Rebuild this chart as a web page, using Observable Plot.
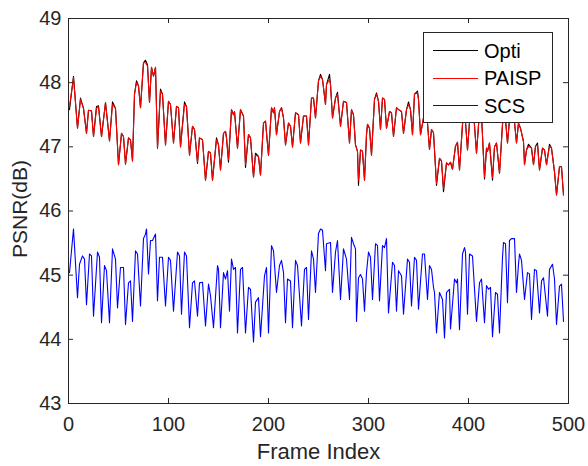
<!DOCTYPE html>
<html>
<head>
<meta charset="utf-8">
<script src="https://cdn.jsdelivr.net/npm/d3@7"></script>
<script src="https://cdn.jsdelivr.net/npm/@observablehq/plot@0.6"></script>
<style>
  body { margin: 0; background: white; }
  #wrap { position: relative; width: 588px; height: 466px; font-family: "Liberation Sans", Arial, sans-serif; }
  #legend { position: absolute; left: 423px; top: 32px; width: 130px; height: 91px; box-sizing: border-box;
    border: 1px solid #262626; background: white; padding-top: 4px; }
  .row { display: flex; align-items: center; height: 27.5px; }
  .row svg { margin-left: 9px; margin-right: 6px; }
  .row span { font-size: 20px; color: #000; line-height: 1; }
</style>
</head>
<body>
<div id="wrap"></div>
<script>
// ---- data ----
const xTicks = [0, 100, 200, 300, 400, 500];
const yTicks = [43, 44, 45, 46, 47, 48, 49];
const seriesNames = ["Opti", "PAISP", "SCS"];
const seriesColors = ["#000000", "#ff0000", "#0000ff"];

const paispFrames = [1,5,9,12,15,18,20,23,25,28,30,33,37,41,44,47,50,53,55,57,60,62,64,66,68,70,72,75,77,79,81,83,85,87,89,92,94,97,100,102,105,108,110,112,116,118,121,124,126,129,131,134,137,140,142,144,148,150,152,155,157,158,160,163,165,166,169,172,175,177,180,182,185,187,190,192,195,197,200,203,205,206,208,211,213,215,217,220,222,224,227,230,232,235,238,240,243,245,247,250,252,254,257,258,261,262,264,267,269,272,275,278,281,283,285,287,289,290,292,294,296,298,299,301,303,306,308,310,312,314,316,318,321,323,325,328,330,333,335,338,340,342,344,346,349,350,352,355,357,359,361,363,365,368,371,373,375,378,380,382,384,387,389,391,394,396,399,402,405,408,411,413,416,418,419,421,424,426,428,431,434,436,439,442,445,448,450,452,455,456,458,460,463,465,467,469,471,474,476,478,481,483,486,488,491,493,495];
const paisp = [47.63,48.08,47.29,47.74,47.60,47.21,47.57,47.56,47.16,47.60,47.62,47.16,47.69,47.09,47.66,47.60,46.72,47.21,47.16,46.73,47.14,47.11,46.78,47.82,48.00,47.95,47.61,48.31,48.31,48.26,47.69,48.24,48.10,48.24,46.98,47.87,47.82,47.03,47.71,47.66,47.06,47.63,47.61,47.00,47.66,47.63,46.87,47.32,47.27,46.77,47.14,47.11,46.48,46.93,46.90,46.48,47.11,47.03,46.64,47.21,47.24,47.14,46.80,47.58,47.50,47.55,46.98,47.58,47.48,46.72,47.19,47.14,46.53,46.87,46.85,46.56,47.37,47.40,46.87,47.61,47.53,47.61,47.19,47.55,47.61,47.45,47.03,47.37,47.32,47.00,47.53,47.50,47.06,47.48,47.48,47.03,47.76,47.76,47.45,48.03,48.10,48.05,47.66,47.97,48.05,47.97,47.45,47.76,47.82,47.32,47.71,47.69,47.06,47.58,47.50,47.03,46.93,46.48,46.95,46.93,46.48,47.19,47.35,47.29,46.87,47.74,47.82,47.71,47.27,47.76,47.74,47.29,47.55,47.53,47.16,47.61,47.58,47.55,47.21,47.58,47.66,47.58,47.19,47.82,47.84,47.74,47.19,47.45,47.50,47.37,46.96,47.27,47.22,46.43,46.82,46.78,46.35,46.75,46.72,46.76,46.65,47.01,47.07,46.64,47.35,47.60,46.95,47.60,47.55,46.90,47.55,47.50,46.53,46.98,46.93,47.06,46.52,47.00,47.06,46.59,47.35,47.60,47.06,47.60,47.55,47.06,47.37,47.29,47.08,46.72,46.95,47.01,46.98,46.72,47.01,47.03,46.64,46.98,46.95,46.72,47.01,46.98,46.61,46.25,46.69,46.69,46.25];
const opti = [47.58,48.10,47.29,47.76,47.60,47.21,47.57,47.56,47.16,47.63,47.64,47.16,47.69,47.09,47.70,47.60,46.72,47.21,47.16,46.73,47.14,47.11,46.78,47.82,48.03,47.95,47.61,48.31,48.35,48.28,47.69,48.24,48.10,48.24,46.98,47.90,47.82,47.03,47.71,47.66,47.06,47.63,47.61,47.00,47.70,47.63,46.87,47.32,47.27,46.74,47.14,47.11,46.48,46.93,46.90,46.48,47.14,47.03,46.64,47.21,47.24,47.14,46.76,47.58,47.50,47.55,46.98,47.58,47.48,46.68,47.19,47.14,46.53,46.90,46.85,46.56,47.37,47.40,46.87,47.61,47.53,47.61,47.19,47.55,47.61,47.45,47.03,47.37,47.32,47.00,47.53,47.50,47.06,47.48,47.48,47.03,47.76,47.76,47.45,48.03,48.13,48.05,47.66,47.97,48.13,47.97,47.45,47.76,47.85,47.32,47.71,47.69,47.06,47.58,47.50,47.03,46.93,46.40,46.95,46.93,46.48,47.19,47.35,47.29,46.87,47.74,47.84,47.71,47.27,47.76,47.74,47.29,47.55,47.53,47.16,47.61,47.58,47.55,47.21,47.58,47.70,47.58,47.19,47.82,47.87,47.74,47.19,47.45,47.50,47.37,46.96,47.27,47.22,46.40,46.82,46.78,46.30,46.75,46.72,46.76,46.65,47.01,47.07,46.64,47.35,47.60,46.95,47.60,47.55,46.90,47.55,47.50,46.50,46.98,46.93,47.06,46.48,47.00,47.06,46.59,47.35,47.60,47.06,47.60,47.55,47.06,47.37,47.29,47.08,46.72,46.95,47.04,46.98,46.72,47.01,47.06,46.64,46.98,46.95,46.72,47.04,46.98,46.61,46.25,46.69,46.69,46.25];

const scsFrames = [1,5,9,11,14,16,18,21,23,25,29,31,33,36,38,41,44,47,49,52,55,57,60,62,64,67,69,72,75,77,78,80,82,84,87,89,91,94,97,100,102,105,109,111,113,116,118,121,124,126,129,131,134,137,140,142,145,149,150,152,155,157,159,161,163,165,167,169,172,174,177,180,182,185,187,190,192,196,198,200,203,205,208,211,213,215,217,219,222,224,227,229,233,236,238,240,243,245,247,250,252,254,257,258,262,264,267,269,272,275,278,281,283,285,287,288,290,292,294,296,298,300,302,304,307,309,311,314,316,318,320,324,326,328,330,333,335,339,341,343,346,348,350,354,356,359,361,363,365,366,368,371,374,376,378,381,382,386,388,389,391,394,396,397,399,401,404,408,411,413,416,418,420,422,424,427,429,431,434,435,437,439,441,443,446,448,450,451,453,456,459,461,463,466,468,471,473,475,479,481,484,486,488,491,493,495];
const scs = [45.04,45.72,44.65,45.17,45.30,45.25,44.54,45.33,45.30,44.36,45.36,45.28,44.26,45.15,45.07,44.26,45.41,45.25,44.49,45.12,45.12,44.23,44.88,44.91,44.28,45.38,45.33,44.52,45.57,45.64,45.72,45.02,45.54,45.54,45.64,44.60,45.28,45.28,44.52,45.28,45.23,44.44,45.36,45.30,44.39,45.36,45.30,44.18,44.88,44.91,44.36,44.88,44.89,44.21,44.86,44.68,44.18,45.15,45.09,44.18,45.04,44.94,45.07,44.44,45.25,45.09,45.12,44.10,45.09,45.12,44.10,44.81,44.78,43.96,44.58,44.65,44.04,44.99,45.12,44.10,45.46,45.38,44.73,45.15,45.23,45.04,44.26,44.94,44.91,44.18,45.23,45.15,44.21,45.09,45.12,44.31,45.38,45.25,44.73,45.65,45.72,45.70,45.07,45.49,45.51,44.73,45.36,45.54,44.62,45.41,45.25,44.62,45.59,45.49,45.41,44.28,44.96,45.01,44.94,44.44,45.04,45.36,45.28,44.62,45.49,45.46,44.60,45.46,45.43,45.57,44.41,45.20,45.15,44.44,45.07,44.99,44.39,45.25,45.20,44.52,45.28,45.23,44.47,45.33,45.33,44.62,45.15,45.09,44.81,44.73,44.10,44.73,44.62,44.02,44.73,44.78,44.16,44.94,44.88,44.94,44.15,45.33,45.43,45.36,44.39,45.33,45.30,44.28,44.88,44.94,44.26,44.84,44.78,44.81,44.04,44.73,44.70,44.10,45.28,45.51,45.49,44.57,45.54,45.57,45.57,44.73,45.17,45.33,45.23,44.62,45.04,45.02,44.31,45.09,45.07,44.41,44.91,44.96,44.36,45.09,45.17,44.94,44.23,44.83,44.86,44.28];

// ---- build rows ----
const optiRows = paispFrames.map((f, i) => ({frame: f, value: opti[i]}));
const paispRows = paispFrames.map((f, i) => ({frame: f, value: paisp[i]}));
const scsRows = scsFrames.map((f, i) => ({frame: f, value: scs[i]}));

const W = 588, H = 466, mL = 68, mR = 20, mT = 18, mB = 63;
const fw = W - mL - mR, fh = H - mT - mB, tk = 5;
const axisColor = "#262626";

const chart = Plot.plot({
  width: W, height: H,
  marginLeft: mL, marginRight: mR, marginTop: mT, marginBottom: mB,
  x: {domain: [0, 500]},
  y: {domain: [43, 49]},
  style: {fontFamily: "'Liberation Sans', Arial, sans-serif", fontSize: "20px", color: axisColor, background: "white"},
  marks: [
    Plot.line(optiRows, {x: "frame", y: "value", stroke: seriesColors[0], strokeWidth: 1.1}),
    Plot.line(paispRows, {x: "frame", y: "value", stroke: seriesColors[1], strokeWidth: 1.1}),
    Plot.line(scsRows, {x: "frame", y: "value", stroke: seriesColors[2], strokeWidth: 1.1}),
    Plot.frame({stroke: axisColor}),
    Plot.tickX(xTicks, {x: d => d, insetTop: fh - tk, stroke: axisColor}),
    Plot.tickX(xTicks, {x: d => d, insetBottom: fh - tk, stroke: axisColor}),
    Plot.tickY(yTicks, {y: d => d, insetRight: fw - tk, stroke: axisColor}),
    Plot.tickY(yTicks, {y: d => d, insetLeft: fw - tk, stroke: axisColor}),
    Plot.axisX(xTicks, {tickSize: 0, tickPadding: 13, label: null, fontSize: 20, tickFormat: d3.format("d")}),
    Plot.axisY(yTicks, {tickSize: 0, tickPadding: 7, label: null, fontSize: 20, tickFormat: d3.format("d")}),
    Plot.text(["Frame Index"], {frameAnchor: "bottom", lineAnchor: "middle", textAnchor: "middle", dy: 48, fontSize: 22, fill: axisColor}),
    Plot.text(["PSNR(dB)"], {frameAnchor: "left", lineAnchor: "middle", textAnchor: "middle", rotate: -90, dx: -48, dy: -2, fontSize: 21, fill: axisColor})
  ]
});

const wrap = document.getElementById("wrap");
wrap.appendChild(chart);

// legend (HTML overlay)
const legend = document.createElement("div");
legend.id = "legend";
seriesNames.forEach((name, i) => {
  const row = document.createElement("div");
  row.className = "row";
  row.innerHTML = `<svg width="45" height="3"><line x1="0" x2="45" y1="1.5" y2="1.5" stroke="${seriesColors[i]}" stroke-width="1.1"/></svg><span>${name}</span>`;
  legend.appendChild(row);
});
wrap.appendChild(legend);
</script>
</body>
</html>
